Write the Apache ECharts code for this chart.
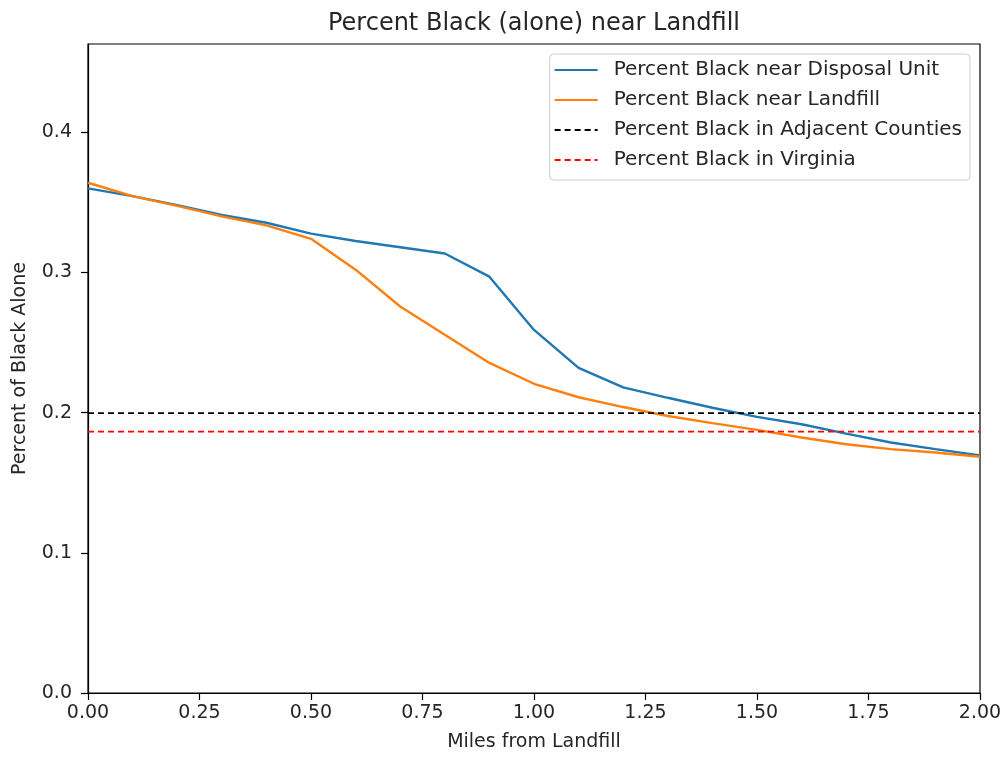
<!DOCTYPE html>
<html>
<head>
<meta charset="utf-8">
<script src="https://cdn.jsdelivr.net/npm/echarts@6/dist/echarts.min.js"></script>
<style>
  html, body { margin: 0; padding: 0; background: #fff; }
  #chart { width: 1005px; height: 757px; }
</style>
</head>
<body>
<div id="chart"></div>
<script>
// Distance from the landfill, in miles (sampled every 0.1 mi)
const miles = [0.0, 0.1, 0.2, 0.3, 0.4, 0.5, 0.6, 0.7, 0.8, 0.9, 1.0,
               1.1, 1.2, 1.3, 1.4, 1.5, 1.6, 1.7, 1.8, 1.9, 2.0];

// Share of Black (alone) residents within the given radius
const nearDisposalUnit = [0.360, 0.3545, 0.348, 0.341, 0.3355, 0.3277, 0.3225, 0.318, 0.3135, 0.297, 0.259,
                          0.232, 0.218, 0.2106, 0.2035, 0.197, 0.1917, 0.185, 0.1787, 0.174, 0.1695];
const nearLandfill = [0.364, 0.3545, 0.3475, 0.340, 0.3336, 0.324, 0.302, 0.2757, 0.2555, 0.2355, 0.2206,
                      0.211, 0.204, 0.1976, 0.1925, 0.1877, 0.1823, 0.1775, 0.174, 0.1716, 0.1685];

// Reference shares
const adjacentCounties = 0.1996;
const virginia = 0.1865;

// Axis ticks
const xTicks = [0, 0.25, 0.5, 0.75, 1.0, 1.25, 1.5, 1.75, 2.0];
const yTicks = [0.0, 0.1, 0.2, 0.3, 0.4];

const FONT = 'DejaVu Sans';
const TXT = '#262626';

const chart = echarts.init(document.getElementById('chart'), null, { renderer: 'canvas' });

const pairs = (ys) => miles.map((m, i) => [m, ys[i]]);
const flat = (v) => [[miles[0], v], [miles[miles.length - 1], v]];

chart.setOption({
  animation: false,
  backgroundColor: '#fff',
  title: {
    text: 'Percent Black (alone) near Landfill',
    left: 529,
    top: 7,
    textAlign: 'center',
    textStyle: { fontFamily: FONT, fontSize: 24, fontWeight: 'normal', color: TXT }
  },
  grid: {
    left: 88, right: 25, top: 44, bottom: 60,
    show: true, borderColor: '#000', borderWidth: 1.2, containLabel: false
  },
  legend: {
    orient: 'vertical',
    right: 35,
    top: 54,
    backgroundColor: 'rgba(255,255,255,0.8)',
    borderColor: '#cccccc',
    borderWidth: 1,
    borderRadius: 4,
    padding: [6, 8, 10, 4],
    itemWidth: 43,
    itemHeight: 14,
    itemGap: 10,
    itemStyle: { opacity: 0 },
    textStyle: { fontFamily: FONT, fontSize: 20, color: TXT, padding: [0, 0, 0, 11] },
    data: [
      'Percent Black near Disposal Unit',
      'Percent Black near Landfill',
      'Percent Black in Adjacent Counties',
      'Percent Black in Virginia'
    ]
  },
  xAxis: {
    type: 'value',
    min: 0, max: 2, interval: 0.25,
    name: 'Miles from Landfill',
    nameLocation: 'middle',
    nameGap: 40,
    nameTextStyle: { fontFamily: FONT, fontSize: 19, color: TXT },
    axisLine: { lineStyle: { color: '#000', width: 1.2 } },
    axisTick: { show: true, length: 7, lineStyle: { color: '#000', width: 1.2 } },
    axisLabel: {
      fontFamily: FONT, fontSize: 19, color: TXT, margin: 11,
      formatter: (v) => xTicks.includes(+v.toFixed(2)) ? v.toFixed(2) : ''
    },
    splitLine: { show: false }
  },
  yAxis: {
    type: 'value',
    min: 0, max: 0.463, interval: 0.1,
    name: 'Percent of Black Alone',
    nameLocation: 'middle',
    nameGap: 58,
    nameTextStyle: { fontFamily: FONT, fontSize: 19, color: TXT },
    axisLine: { show: true, lineStyle: { color: '#000', width: 1.2 } },
    axisTick: { show: true, length: 7, lineStyle: { color: '#000', width: 1.2 } },
    axisLabel: {
      fontFamily: FONT, fontSize: 19, color: TXT, margin: 16,
      showMaxLabel: false,
      formatter: (v) => yTicks.some(t => Math.abs(t - v) < 1e-9) ? v.toFixed(1) : ''
    },
    splitLine: { show: false }
  },
  series: [
    {
      name: 'Percent Black near Disposal Unit',
      type: 'line',
      data: pairs(nearDisposalUnit),
      symbol: 'none',
      lineStyle: { color: '#1f77b4', width: 2.4 },
      itemStyle: { color: '#1f77b4' }
    },
    {
      name: 'Percent Black near Landfill',
      type: 'line',
      data: pairs(nearLandfill),
      symbol: 'none',
      lineStyle: { color: '#ff7f0e', width: 2.4 },
      itemStyle: { color: '#ff7f0e' }
    },
    {
      name: 'Percent Black in Adjacent Counties',
      type: 'line',
      data: flat(adjacentCounties),
      symbol: 'none',
      lineStyle: { color: '#000', width: 1.8, type: [6, 4] },
      itemStyle: { color: '#000' }
    },
    {
      name: 'Percent Black in Virginia',
      type: 'line',
      data: flat(virginia),
      symbol: 'none',
      lineStyle: { color: '#ff0000', width: 1.8, type: [6, 4] },
      itemStyle: { color: '#ff0000' }
    }
  ]
});
</script>
</body>
</html>
